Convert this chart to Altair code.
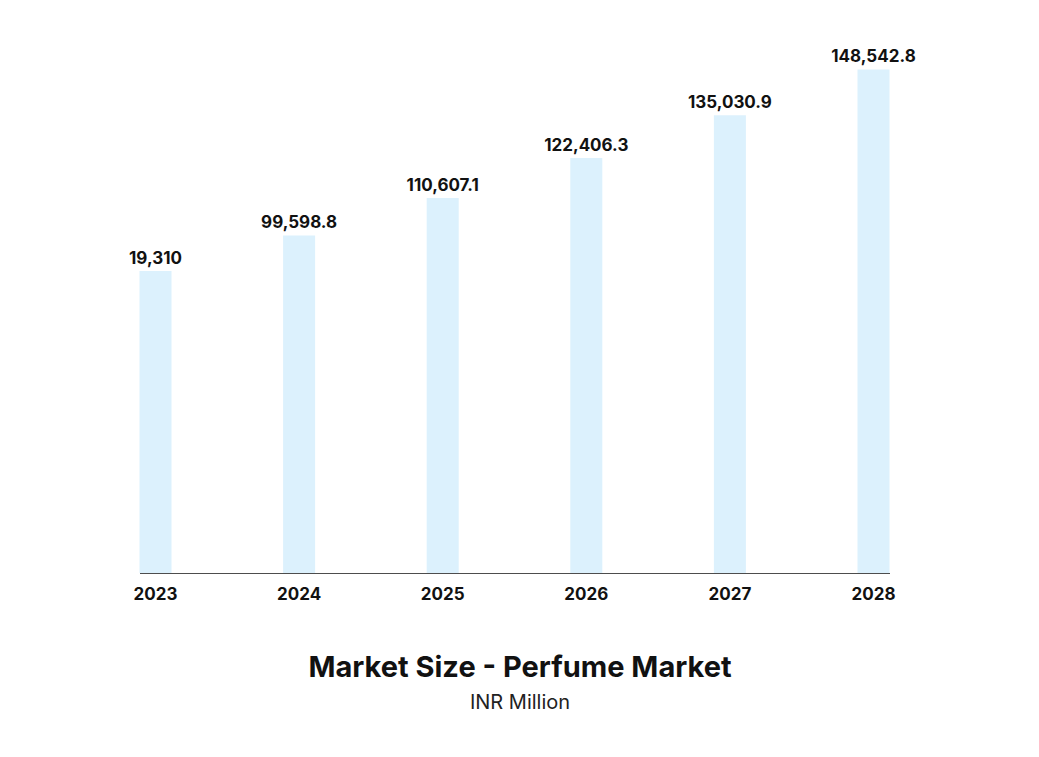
import altair as alt
import pandas as pd

years = ["2023", "2024", "2025", "2026", "2027", "2028"]
bar_values = [89100, 99598.8, 110607.1, 122406.3, 135030.9, 148542.8]
value_labels = ["19,310", "99,598.8", "110,607.1", "122,406.3", "135,030.9", "148,542.8"]
title_text = "Market Size - Perfume Market"
subtitle_text = "INR Million"

W = 864
H = 540
FONT = "Inter"

df = pd.DataFrame({"year": years, "value": bar_values, "label": value_labels})

x = alt.X("year:N", sort=years,
          scale=alt.Scale(range=[51.5, 801.5], paddingInner=0.777, paddingOuter=0),
          axis=alt.Axis(labels=False, ticks=False, title=None, domainColor="#4d4d4d",
                        domainWidth=1, grid=False))
y = alt.Y("value:Q", scale=alt.Scale(domain=[0, 159300], nice=False), axis=None)

base = alt.Chart(df)
bars = base.mark_bar(color="#dcf1fd").encode(x=x, y=y)
labels = base.mark_text(font=FONT, fontWeight="bold", fontSize=17,
                        baseline="alphabetic", dy=-7, color="#111111").encode(
    x=x, y=y, text="label:N")
year_labels = base.mark_text(font=FONT, fontWeight="bold", fontSize=17,
                             baseline="alphabetic", color="#111111").encode(
    x=x, y=alt.value(567), text="year:N")

tdf = pd.DataFrame({"t": [title_text]})
sdf = pd.DataFrame({"t": [subtitle_text]})
title = alt.Chart(tdf).mark_text(font=FONT, fontWeight="bold", fontSize=29,
                                 baseline="alphabetic", color="#111111").encode(
    x=alt.value(W / 2), y=alt.value(644), text="t:N")
subtitle = alt.Chart(sdf).mark_text(font=FONT, fontSize=20,
                                    baseline="alphabetic", color="#222222").encode(
    x=alt.value(W / 2), y=alt.value(676), text="t:N")

chart = alt.layer(bars, labels, year_labels, title, subtitle).properties(
    width=W, height=H,
    padding={"left": 80, "top": 25, "right": 5, "bottom": 5},
).configure(background="white", view={"stroke": None, "strokeWidth": 0})

chart.save("out.html", embed_options={"renderer": "svg", "actions": False})
